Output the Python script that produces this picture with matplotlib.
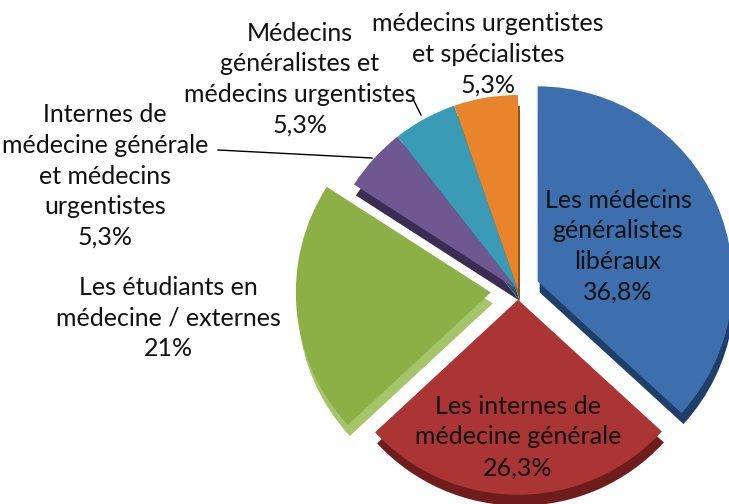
import numpy as np
from matplotlib import pyplot as plt

# wedge values (percent), clockwise from 12 o'clock
values = [36.8, 26.3, 21.0, 5.3, 5.3, 5.3]
labels = ['Les médecins\ngénéralistes\nlibéraux\n36,8%',
          'Les internes de\nmédecine générale\n26,3%',
          'Les étudiants en\nmédecine / externes\n21%',
          'Internes de\nmédecine générale\net médecins\nurgentistes\n5,3%',
          'Médecins\ngénéralistes et\nmédecins urgentistes\n5,3%',
          'médecins urgentistes\net spécialistes\n5,3%']
explode = [0.11, 0.05, 0.14, 0, 0, 0]

colors = ['#3d6fae', '#ab3434', '#8cb046', '#6f5791', '#3a9bb6', '#e8842c']
side_colors = ['#1f3f69', '#6e1c1c', '#a6c46a', '#3a2c52', '#1f5e70', '#9a5214']

# label centres in pixel coordinates (x, y from top)
label_pos = [(618, 246), (518, 437), (168, 318), (105, 176), (300, 79), (488, 54)]

W, H = 729, 504
fig = plt.figure(figsize=(W / 100, H / 100), dpi=100)
ax = fig.add_axes([0, 0, 1, 1])

cx, cy, r = 518, H - 290, 195
# pie explode is in data units, so scale it by the radius
expl_px = [e * r for e in explode]

# darker copy underneath gives the 3D depth
ax.pie(values, explode=expl_px, startangle=90, counterclock=False,
       colors=side_colors, center=(cx + 2, cy - 11), radius=r,
       wedgeprops=dict(linewidth=0, zorder=1))
ax.pie(values, explode=expl_px, startangle=90, counterclock=False,
       colors=colors, center=(cx, cy), radius=r,
       wedgeprops=dict(linewidth=0, zorder=2))

ax.set_aspect('auto')
ax.set_xlim(0, W)
ax.set_ylim(0, H)
ax.axis('off')

for lab, (x, y) in zip(labels, label_pos):
    ax.text(x, H - y, lab, ha='center', va='center', fontsize=18,
            family='Lato', linespacing=1.4, color='#111111', zorder=5)

# leader lines
ax.plot([413, 421], [H - 99, H - 115], color='black', lw=1, zorder=4)
ax.plot([218, 372], [H - 150, H - 158], color='black', lw=1, zorder=4)

fig.savefig('out.png', dpi=100)
